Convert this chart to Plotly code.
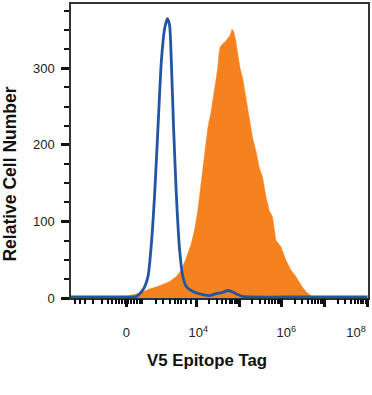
import math
import plotly.graph_objects as go

# x values are in "decade" display units of the biexponential axis (4 = 10^4)
blue_x = [1.077, 2.40, 2.605, 2.758, 2.874, 2.953, 3.03, 3.107, 3.186, 3.263, 3.326, 3.379,
          3.419, 3.472, 3.535, 3.612, 3.688, 3.767, 3.921, 4.153, 4.309, 4.465, 4.619,
          4.735, 4.814, 4.93, 5.084, 6.5, 8.0]
blue_y = [1.5, 1.5, 2, 10.8, 28, 71, 136, 222, 309, 352, 365, 356,
          309, 222, 136, 63, 28, 15, 8.6, 4.3, 3, 5.6, 7.3,
          9.8, 8.6, 5.6, 2, 1.5, 1.5]

orange_x = [2.372, 2.681, 2.914, 3.147, 3.379, 3.535, 3.651, 3.767, 3.884, 3.96, 4.037,
            4.116, 4.193, 4.27, 4.349, 4.426, 4.502, 4.53, 4.558, 4.619, 4.681, 4.735,
            4.791, 4.837, 4.874, 4.914, 4.967, 5.023, 5.084, 5.163, 5.24, 5.316, 5.395,
            5.472, 5.549, 5.628, 5.705, 5.781, 5.86, 5.977, 6.093, 6.209, 6.326, 6.442,
            6.558, 6.674, 6.751]
orange_y = [2.1, 6.5, 11.7, 16, 21.5, 28, 36.7, 51.8, 71, 88.5, 114,
            149, 188, 222, 244, 274, 300, 318, 328, 332, 335, 339,
            343, 351, 348, 339, 317, 300, 287, 261, 231, 209, 192,
            170, 158, 132, 114, 106, 75.5, 67, 49.6, 36.7, 28, 17.2,
            8.6, 3, 1.3]

# tick labels (placed where the reference prints them)
x_label_vals = [2.372, 4.05, 6.1, 7.73]
x_label_text = ["0", "10<sup>4</sup>", "10<sup>6</sup>", "10<sup>8</sup>"]
# major tick marks
x_major_marks = [2.372, 4, 5, 6, 7, 8]
y_tick_vals = [0, 100, 200, 300]

x_minor = [1.170, 1.286, 1.402, 1.588, 1.791, 1.937, 2.03, 2.123, 2.193, 2.263, 2.333,
           2.402, 2.472, 2.542, 2.612, 2.681, 2.728, 3.07, 3.216, 3.379, 3.495, 3.565,
           3.651, 3.767, 3.884]
for dec in [4, 5, 6, 7]:
    for k in [2, 3, 4, 5, 6, 7, 8, 9]:
        x_minor.append(dec + math.log10(k))

ORANGE = "#F5821F"
BLUE = "#2256A3"
FONT = "Liberation Sans, Arial, sans-serif"
XR = [1.077, 8.01]

fig = go.Figure()
fig.add_trace(go.Scatter(x=orange_x, y=orange_y, mode="lines", fill="tozeroy",
                         fillcolor=ORANGE, line=dict(color=ORANGE, width=0.5),
                         hoverinfo="skip", showlegend=False))
fig.add_trace(go.Scatter(x=blue_x, y=blue_y, mode="lines",
                         line=dict(color=BLUE, width=2.8, shape="spline", smoothing=0.6),
                         hoverinfo="skip", showlegend=False))
# invisible anchor so the tick-mark axis is drawn
fig.add_trace(go.Scatter(x=[XR[0]], y=[0], xaxis="x2", mode="markers",
                         marker=dict(opacity=0), hoverinfo="skip", showlegend=False))

fig.update_layout(
    width=372, height=395,
    margin=dict(l=71, r=3, t=2, b=97),
    paper_bgcolor="white", plot_bgcolor="white",
    font=dict(family=FONT, size=13, color="#222"),
    xaxis=dict(range=XR, showgrid=False, zeroline=False,
               showline=True, linecolor="#333", linewidth=1.5, mirror=True,
               tickmode="array", tickvals=x_label_vals, ticktext=x_label_text,
               ticks="", ticklabelstandoff=22),
    xaxis2=dict(range=XR, overlaying="x", anchor="y", side="bottom",
                showgrid=False, zeroline=False, showline=False,
                tickmode="array", tickvals=x_major_marks, showticklabels=False,
                ticks="outside", ticklen=8, tickwidth=3, tickcolor="#111",
                minor=dict(tickmode="array", tickvals=x_minor, ticks="outside",
                           ticklen=5, tickwidth=1.5, tickcolor="#111", showgrid=False)),
    yaxis=dict(range=[0, 384], showgrid=False, zeroline=False,
               showline=True, linecolor="#333", linewidth=1.5, mirror=True,
               tickmode="array", tickvals=y_tick_vals,
               ticks="outside", ticklen=8, tickwidth=3, tickcolor="#111",
               ticklabelstandoff=4,
               minor=dict(dtick=25, ticks="outside", ticklen=5, tickwidth=1.5,
                          tickcolor="#111", showgrid=False)),
    annotations=[
        dict(text="Relative Cell Number", xref="paper", yref="paper",
             x=(10 - 71) / 298, y=(298 - 173.5) / 296, textangle=-90,
             xanchor="center", yanchor="middle", showarrow=False,
             font=dict(family=FONT, size=17.5, color="#111", weight="bold")),
        dict(text="V5 Epitope Tag", xref="paper", yref="paper",
             x=(207 - 71) / 298, y=(298 - 361) / 296,
             xanchor="center", yanchor="middle", showarrow=False,
             font=dict(family=FONT, size=16.8, color="#111", weight="bold")),
    ],
)

fig.write_html("out.html", config={"displayModeBar": False},
               post_script="document.body.style.margin='0';document.body.style.overflow='hidden';")
